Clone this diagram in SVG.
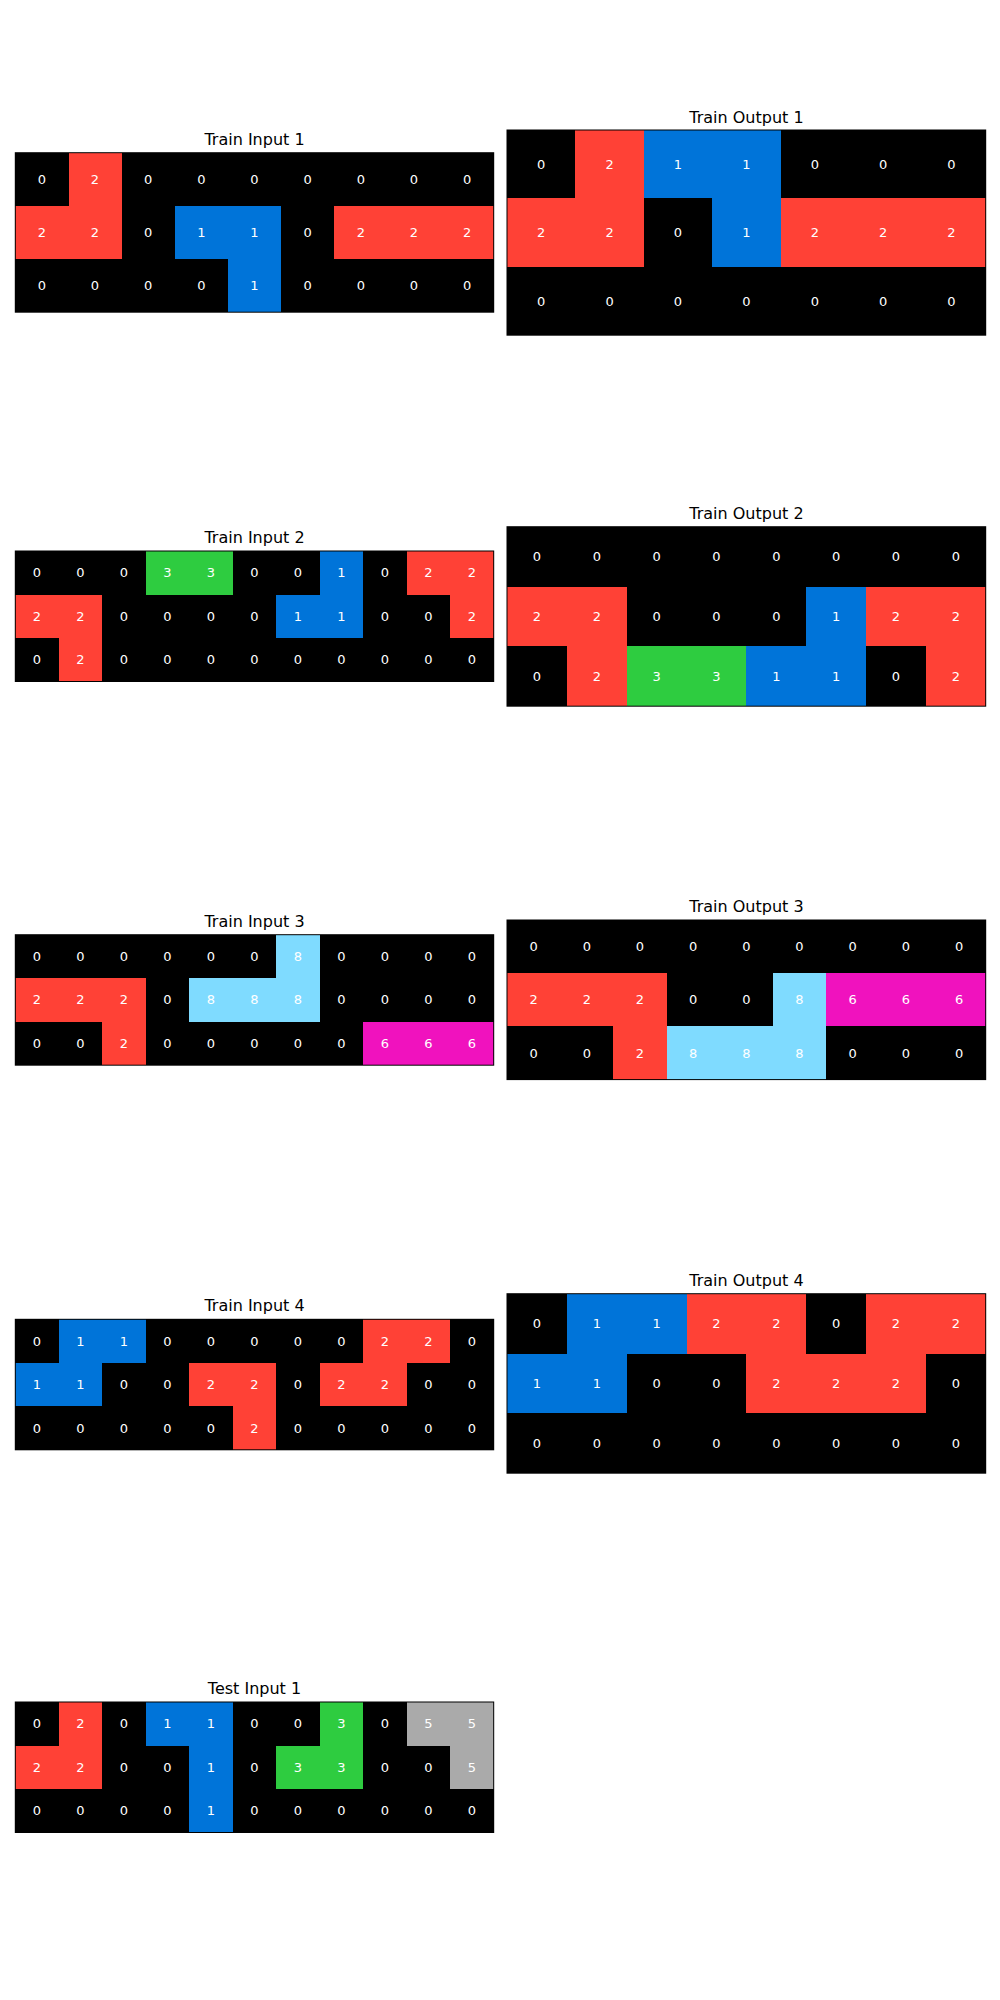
<svg xmlns="http://www.w3.org/2000/svg" width="1000" height="2000" viewBox="0 0 1000 2000">
<style>
.bg{fill:#000000}
.frame{fill:none;stroke:#000000;stroke-width:1}
.c{shape-rendering:crispEdges}
.r{fill:#FF4136}.b{fill:#0074D9}.g{fill:#2ECC40}.l{fill:#7FDBFF}.m{fill:#F012BE}.s{fill:#AAAAAA}
.t{font-family:"DejaVu Sans","Liberation Sans",sans-serif;font-size:16px;fill:#000000;text-anchor:middle}
.n{font-family:"DejaVu Sans","Liberation Sans",sans-serif;font-size:13px;fill:#ffffff;text-anchor:middle;dominant-baseline:central}
</style>
<rect x="0" y="0" width="1000" height="2000" fill="#ffffff"/>

<g id="train-input-1">
<text class="t" x="254.5" y="145">Train Input 1</text>
<rect class="bg c" x="15.3" y="152.7" width="478.4" height="159.5"/>
<rect class="r c" x="68.5" y="152.7" width="53.2" height="53.2"/>
<rect class="r c" x="15.3" y="205.9" width="106.3" height="53.2"/>
<rect class="b c" x="174.8" y="205.9" width="106.3" height="53.2"/>
<rect class="b c" x="227.9" y="259.0" width="53.2" height="53.2"/>
<rect class="r c" x="334.3" y="205.9" width="159.4" height="53.2"/>
<rect class="frame" x="15.3" y="152.7" width="478.4" height="159.5"/>
<text class="n" x="41.9" y="179.3">0</text><text class="n" x="95.0" y="179.3">2</text><text class="n" x="148.2" y="179.3">0</text><text class="n" x="201.4" y="179.3">0</text><text class="n" x="254.5" y="179.3">0</text><text class="n" x="307.7" y="179.3">0</text><text class="n" x="360.8" y="179.3">0</text><text class="n" x="414.0" y="179.3">0</text><text class="n" x="467.2" y="179.3">0</text>
<text class="n" x="41.9" y="232.4">2</text><text class="n" x="95.0" y="232.4">2</text><text class="n" x="148.2" y="232.4">0</text><text class="n" x="201.4" y="232.4">1</text><text class="n" x="254.5" y="232.4">1</text><text class="n" x="307.7" y="232.4">0</text><text class="n" x="360.8" y="232.4">2</text><text class="n" x="414.0" y="232.4">2</text><text class="n" x="467.2" y="232.4">2</text>
<text class="n" x="41.9" y="285.6">0</text><text class="n" x="95.0" y="285.6">0</text><text class="n" x="148.2" y="285.6">0</text><text class="n" x="201.4" y="285.6">0</text><text class="n" x="254.5" y="285.6">1</text><text class="n" x="307.7" y="285.6">0</text><text class="n" x="360.8" y="285.6">0</text><text class="n" x="414.0" y="285.6">0</text><text class="n" x="467.2" y="285.6">0</text>
</g>

<g id="train-output-1">
<text class="t" x="746.4" y="122.5">Train Output 1</text>
<rect class="bg c" x="507" y="130" width="478.7" height="205.2"/>
<rect class="r c" x="575.4" y="130" width="68.4" height="68.4"/>
<rect class="b c" x="643.8" y="130" width="136.8" height="68.4"/>
<rect class="r c" x="507" y="198.4" width="136.8" height="68.4"/>
<rect class="b c" x="712.2" y="198.4" width="68.4" height="68.4"/>
<rect class="r c" x="780.6" y="198.4" width="205.1" height="68.4"/>
<rect class="frame" x="507" y="130" width="478.7" height="205.2"/>
<text class="n" x="541.2" y="164.2">0</text><text class="n" x="609.6" y="164.2">2</text><text class="n" x="678.0" y="164.2">1</text><text class="n" x="746.4" y="164.2">1</text><text class="n" x="814.8" y="164.2">0</text><text class="n" x="883.1" y="164.2">0</text><text class="n" x="951.5" y="164.2">0</text>
<text class="n" x="541.2" y="232.6">2</text><text class="n" x="609.6" y="232.6">2</text><text class="n" x="678.0" y="232.6">0</text><text class="n" x="746.4" y="232.6">1</text><text class="n" x="814.8" y="232.6">2</text><text class="n" x="883.1" y="232.6">2</text><text class="n" x="951.5" y="232.6">2</text>
<text class="n" x="541.2" y="301.0">0</text><text class="n" x="609.6" y="301.0">0</text><text class="n" x="678.0" y="301.0">0</text><text class="n" x="746.4" y="301.0">0</text><text class="n" x="814.8" y="301.0">0</text><text class="n" x="883.1" y="301.0">0</text><text class="n" x="951.5" y="301.0">0</text>
</g>

<g id="train-input-2">
<text class="t" x="254.5" y="543.3">Train Input 2</text>
<rect class="bg c" x="15.3" y="551" width="478.4" height="130.5"/>
<rect class="g c" x="145.8" y="551" width="87" height="43.5"/>
<rect class="b c" x="319.7" y="551" width="43.5" height="43.5"/>
<rect class="r c" x="406.7" y="551" width="87" height="43.5"/>
<rect class="r c" x="15.3" y="594.5" width="87" height="43.5"/>
<rect class="b c" x="276.2" y="594.5" width="87" height="43.5"/>
<rect class="r c" x="450.2" y="594.5" width="43.5" height="43.5"/>
<rect class="r c" x="58.8" y="638" width="43.5" height="43.5"/>
<rect class="frame" x="15.3" y="551" width="478.4" height="130.5"/>
<text class="n" x="37.0" y="572.7">0</text><text class="n" x="80.5" y="572.7">0</text><text class="n" x="124.0" y="572.7">0</text><text class="n" x="167.5" y="572.7">3</text><text class="n" x="211.0" y="572.7">3</text><text class="n" x="254.5" y="572.7">0</text><text class="n" x="298.0" y="572.7">0</text><text class="n" x="341.5" y="572.7">1</text><text class="n" x="385.0" y="572.7">0</text><text class="n" x="428.5" y="572.7">2</text><text class="n" x="471.9" y="572.7">2</text>
<text class="n" x="37.0" y="616.2">2</text><text class="n" x="80.5" y="616.2">2</text><text class="n" x="124.0" y="616.2">0</text><text class="n" x="167.5" y="616.2">0</text><text class="n" x="211.0" y="616.2">0</text><text class="n" x="254.5" y="616.2">0</text><text class="n" x="298.0" y="616.2">1</text><text class="n" x="341.5" y="616.2">1</text><text class="n" x="385.0" y="616.2">0</text><text class="n" x="428.5" y="616.2">0</text><text class="n" x="471.9" y="616.2">2</text>
<text class="n" x="37.0" y="659.7">0</text><text class="n" x="80.5" y="659.7">2</text><text class="n" x="124.0" y="659.7">0</text><text class="n" x="167.5" y="659.7">0</text><text class="n" x="211.0" y="659.7">0</text><text class="n" x="254.5" y="659.7">0</text><text class="n" x="298.0" y="659.7">0</text><text class="n" x="341.5" y="659.7">0</text><text class="n" x="385.0" y="659.7">0</text><text class="n" x="428.5" y="659.7">0</text><text class="n" x="471.9" y="659.7">0</text>
</g>

<g id="train-output-2">
<text class="t" x="746.4" y="518.5">Train Output 2</text>
<rect class="bg c" x="507" y="526.7" width="478.7" height="179.5"/>
<rect class="r c" x="507" y="586.5" width="119.7" height="59.9"/>
<rect class="b c" x="806.2" y="586.5" width="59.8" height="59.9"/>
<rect class="r c" x="866" y="586.5" width="119.7" height="59.9"/>
<rect class="r c" x="566.8" y="646.4" width="59.9" height="59.8"/>
<rect class="g c" x="626.7" y="646.4" width="119.7" height="59.8"/>
<rect class="b c" x="746.4" y="646.4" width="119.6" height="59.8"/>
<rect class="r c" x="925.9" y="646.4" width="59.8" height="59.8"/>
<rect class="frame" x="507" y="526.7" width="478.7" height="179.5"/>
<text class="n" x="536.9" y="556.6">0</text><text class="n" x="596.8" y="556.6">0</text><text class="n" x="656.6" y="556.6">0</text><text class="n" x="716.4" y="556.6">0</text><text class="n" x="776.3" y="556.6">0</text><text class="n" x="836.1" y="556.6">0</text><text class="n" x="896.0" y="556.6">0</text><text class="n" x="955.8" y="556.6">0</text>
<text class="n" x="536.9" y="616.5">2</text><text class="n" x="596.8" y="616.5">2</text><text class="n" x="656.6" y="616.5">0</text><text class="n" x="716.4" y="616.5">0</text><text class="n" x="776.3" y="616.5">0</text><text class="n" x="836.1" y="616.5">1</text><text class="n" x="896.0" y="616.5">2</text><text class="n" x="955.8" y="616.5">2</text>
<text class="n" x="536.9" y="676.3">0</text><text class="n" x="596.8" y="676.3">2</text><text class="n" x="656.6" y="676.3">3</text><text class="n" x="716.4" y="676.3">3</text><text class="n" x="776.3" y="676.3">1</text><text class="n" x="836.1" y="676.3">1</text><text class="n" x="896.0" y="676.3">0</text><text class="n" x="955.8" y="676.3">2</text>
</g>

<g id="train-input-3">
<text class="t" x="254.5" y="927.2">Train Input 3</text>
<rect class="bg c" x="15.3" y="934.7" width="478.4" height="130.5"/>
<rect class="l c" x="276.2" y="934.7" width="43.5" height="43.5"/>
<rect class="r c" x="15.3" y="978.2" width="130.5" height="43.5"/>
<rect class="l c" x="189.3" y="978.2" width="130.5" height="43.5"/>
<rect class="r c" x="102.3" y="1021.7" width="43.5" height="43.5"/>
<rect class="m c" x="363.2" y="1021.7" width="130.5" height="43.5"/>
<rect class="frame" x="15.3" y="934.7" width="478.4" height="130.5"/>
<text class="n" x="37.0" y="956.4">0</text><text class="n" x="80.5" y="956.4">0</text><text class="n" x="124.0" y="956.4">0</text><text class="n" x="167.5" y="956.4">0</text><text class="n" x="211.0" y="956.4">0</text><text class="n" x="254.5" y="956.4">0</text><text class="n" x="298.0" y="956.4">8</text><text class="n" x="341.5" y="956.4">0</text><text class="n" x="385.0" y="956.4">0</text><text class="n" x="428.5" y="956.4">0</text><text class="n" x="471.9" y="956.4">0</text>
<text class="n" x="37.0" y="999.9">2</text><text class="n" x="80.5" y="999.9">2</text><text class="n" x="124.0" y="999.9">2</text><text class="n" x="167.5" y="999.9">0</text><text class="n" x="211.0" y="999.9">8</text><text class="n" x="254.5" y="999.9">8</text><text class="n" x="298.0" y="999.9">8</text><text class="n" x="341.5" y="999.9">0</text><text class="n" x="385.0" y="999.9">0</text><text class="n" x="428.5" y="999.9">0</text><text class="n" x="471.9" y="999.9">0</text>
<text class="n" x="37.0" y="1043.4">0</text><text class="n" x="80.5" y="1043.4">0</text><text class="n" x="124.0" y="1043.4">2</text><text class="n" x="167.5" y="1043.4">0</text><text class="n" x="211.0" y="1043.4">0</text><text class="n" x="254.5" y="1043.4">0</text><text class="n" x="298.0" y="1043.4">0</text><text class="n" x="341.5" y="1043.4">0</text><text class="n" x="385.0" y="1043.4">6</text><text class="n" x="428.5" y="1043.4">6</text><text class="n" x="471.9" y="1043.4">6</text>
</g>

<g id="train-output-3">
<text class="t" x="746.4" y="912.3">Train Output 3</text>
<rect class="bg c" x="507" y="920" width="478.7" height="159.6"/>
<rect class="r c" x="507" y="973.2" width="159.6" height="53.2"/>
<rect class="l c" x="772.9" y="973.2" width="53.2" height="53.2"/>
<rect class="m c" x="826.1" y="973.2" width="159.6" height="53.2"/>
<rect class="r c" x="613.4" y="1026.4" width="53.2" height="53.2"/>
<rect class="l c" x="666.6" y="1026.4" width="159.5" height="53.2"/>
<rect class="frame" x="507" y="920" width="478.7" height="159.6"/>
<text class="n" x="533.6" y="946.6">0</text><text class="n" x="586.8" y="946.6">0</text><text class="n" x="640.0" y="946.6">0</text><text class="n" x="693.2" y="946.6">0</text><text class="n" x="746.3" y="946.6">0</text><text class="n" x="799.5" y="946.6">0</text><text class="n" x="852.7" y="946.6">0</text><text class="n" x="905.9" y="946.6">0</text><text class="n" x="959.1" y="946.6">0</text>
<text class="n" x="533.6" y="999.8">2</text><text class="n" x="586.8" y="999.8">2</text><text class="n" x="640.0" y="999.8">2</text><text class="n" x="693.2" y="999.8">0</text><text class="n" x="746.3" y="999.8">0</text><text class="n" x="799.5" y="999.8">8</text><text class="n" x="852.7" y="999.8">6</text><text class="n" x="905.9" y="999.8">6</text><text class="n" x="959.1" y="999.8">6</text>
<text class="n" x="533.6" y="1053.0">0</text><text class="n" x="586.8" y="1053.0">0</text><text class="n" x="640.0" y="1053.0">2</text><text class="n" x="693.2" y="1053.0">8</text><text class="n" x="746.3" y="1053.0">8</text><text class="n" x="799.5" y="1053.0">8</text><text class="n" x="852.7" y="1053.0">0</text><text class="n" x="905.9" y="1053.0">0</text><text class="n" x="959.1" y="1053.0">0</text>
</g>

<g id="train-input-4">
<text class="t" x="254.5" y="1311">Train Input 4</text>
<rect class="bg c" x="15.3" y="1319.3" width="478.4" height="130.5"/>
<rect class="b c" x="58.8" y="1319.3" width="87" height="43.5"/>
<rect class="r c" x="363.2" y="1319.3" width="87" height="43.5"/>
<rect class="b c" x="15.3" y="1362.8" width="87" height="43.5"/>
<rect class="r c" x="189.3" y="1362.8" width="87" height="43.5"/>
<rect class="r c" x="319.7" y="1362.8" width="87" height="43.5"/>
<rect class="r c" x="232.8" y="1406.3" width="43.5" height="43.5"/>
<rect class="frame" x="15.3" y="1319.3" width="478.4" height="130.5"/>
<text class="n" x="37.0" y="1341.0">0</text><text class="n" x="80.5" y="1341.0">1</text><text class="n" x="124.0" y="1341.0">1</text><text class="n" x="167.5" y="1341.0">0</text><text class="n" x="211.0" y="1341.0">0</text><text class="n" x="254.5" y="1341.0">0</text><text class="n" x="298.0" y="1341.0">0</text><text class="n" x="341.5" y="1341.0">0</text><text class="n" x="385.0" y="1341.0">2</text><text class="n" x="428.5" y="1341.0">2</text><text class="n" x="471.9" y="1341.0">0</text>
<text class="n" x="37.0" y="1384.5">1</text><text class="n" x="80.5" y="1384.5">1</text><text class="n" x="124.0" y="1384.5">0</text><text class="n" x="167.5" y="1384.5">0</text><text class="n" x="211.0" y="1384.5">2</text><text class="n" x="254.5" y="1384.5">2</text><text class="n" x="298.0" y="1384.5">0</text><text class="n" x="341.5" y="1384.5">2</text><text class="n" x="385.0" y="1384.5">2</text><text class="n" x="428.5" y="1384.5">0</text><text class="n" x="471.9" y="1384.5">0</text>
<text class="n" x="37.0" y="1428.0">0</text><text class="n" x="80.5" y="1428.0">0</text><text class="n" x="124.0" y="1428.0">0</text><text class="n" x="167.5" y="1428.0">0</text><text class="n" x="211.0" y="1428.0">0</text><text class="n" x="254.5" y="1428.0">2</text><text class="n" x="298.0" y="1428.0">0</text><text class="n" x="341.5" y="1428.0">0</text><text class="n" x="385.0" y="1428.0">0</text><text class="n" x="428.5" y="1428.0">0</text><text class="n" x="471.9" y="1428.0">0</text>
</g>

<g id="train-output-4">
<text class="t" x="746.4" y="1286">Train Output 4</text>
<rect class="bg c" x="507" y="1293.7" width="478.7" height="179.5"/>
<rect class="b c" x="566.8" y="1293.7" width="119.7" height="59.8"/>
<rect class="r c" x="686.5" y="1293.7" width="119.7" height="59.8"/>
<rect class="r c" x="866" y="1293.7" width="119.7" height="59.8"/>
<rect class="b c" x="507" y="1353.5" width="119.7" height="59.9"/>
<rect class="r c" x="746.4" y="1353.5" width="179.5" height="59.9"/>
<rect class="frame" x="507" y="1293.7" width="478.7" height="179.5"/>
<text class="n" x="536.9" y="1323.6">0</text><text class="n" x="596.8" y="1323.6">1</text><text class="n" x="656.6" y="1323.6">1</text><text class="n" x="716.4" y="1323.6">2</text><text class="n" x="776.3" y="1323.6">2</text><text class="n" x="836.1" y="1323.6">0</text><text class="n" x="896.0" y="1323.6">2</text><text class="n" x="955.8" y="1323.6">2</text>
<text class="n" x="536.9" y="1383.5">1</text><text class="n" x="596.8" y="1383.5">1</text><text class="n" x="656.6" y="1383.5">0</text><text class="n" x="716.4" y="1383.5">0</text><text class="n" x="776.3" y="1383.5">2</text><text class="n" x="836.1" y="1383.5">2</text><text class="n" x="896.0" y="1383.5">2</text><text class="n" x="955.8" y="1383.5">0</text>
<text class="n" x="536.9" y="1443.3">0</text><text class="n" x="596.8" y="1443.3">0</text><text class="n" x="656.6" y="1443.3">0</text><text class="n" x="716.4" y="1443.3">0</text><text class="n" x="776.3" y="1443.3">0</text><text class="n" x="836.1" y="1443.3">0</text><text class="n" x="896.0" y="1443.3">0</text><text class="n" x="955.8" y="1443.3">0</text>
</g>

<g id="test-input-1">
<text class="t" x="254.5" y="1694.2">Test Input 1</text>
<rect class="bg c" x="15.3" y="1702" width="478.4" height="130.5"/>
<rect class="r c" x="58.8" y="1702" width="43.5" height="43.5"/>
<rect class="b c" x="145.8" y="1702" width="87" height="43.5"/>
<rect class="b c" x="189.3" y="1745.5" width="43.5" height="87"/>
<rect class="g c" x="319.7" y="1702" width="43.5" height="43.5"/>
<rect class="s c" x="406.7" y="1702" width="87" height="43.5"/>
<rect class="r c" x="15.3" y="1745.5" width="87" height="43.5"/>
<rect class="g c" x="276.2" y="1745.5" width="87" height="43.5"/>
<rect class="s c" x="450.2" y="1745.5" width="43.5" height="43.5"/>
<rect class="frame" x="15.3" y="1702" width="478.4" height="130.5"/>
<text class="n" x="37.0" y="1723.7">0</text><text class="n" x="80.5" y="1723.7">2</text><text class="n" x="124.0" y="1723.7">0</text><text class="n" x="167.5" y="1723.7">1</text><text class="n" x="211.0" y="1723.7">1</text><text class="n" x="254.5" y="1723.7">0</text><text class="n" x="298.0" y="1723.7">0</text><text class="n" x="341.5" y="1723.7">3</text><text class="n" x="385.0" y="1723.7">0</text><text class="n" x="428.5" y="1723.7">5</text><text class="n" x="471.9" y="1723.7">5</text>
<text class="n" x="37.0" y="1767.2">2</text><text class="n" x="80.5" y="1767.2">2</text><text class="n" x="124.0" y="1767.2">0</text><text class="n" x="167.5" y="1767.2">0</text><text class="n" x="211.0" y="1767.2">1</text><text class="n" x="254.5" y="1767.2">0</text><text class="n" x="298.0" y="1767.2">3</text><text class="n" x="341.5" y="1767.2">3</text><text class="n" x="385.0" y="1767.2">0</text><text class="n" x="428.5" y="1767.2">0</text><text class="n" x="471.9" y="1767.2">5</text>
<text class="n" x="37.0" y="1810.7">0</text><text class="n" x="80.5" y="1810.7">0</text><text class="n" x="124.0" y="1810.7">0</text><text class="n" x="167.5" y="1810.7">0</text><text class="n" x="211.0" y="1810.7">1</text><text class="n" x="254.5" y="1810.7">0</text><text class="n" x="298.0" y="1810.7">0</text><text class="n" x="341.5" y="1810.7">0</text><text class="n" x="385.0" y="1810.7">0</text><text class="n" x="428.5" y="1810.7">0</text><text class="n" x="471.9" y="1810.7">0</text>
</g>
</svg>
